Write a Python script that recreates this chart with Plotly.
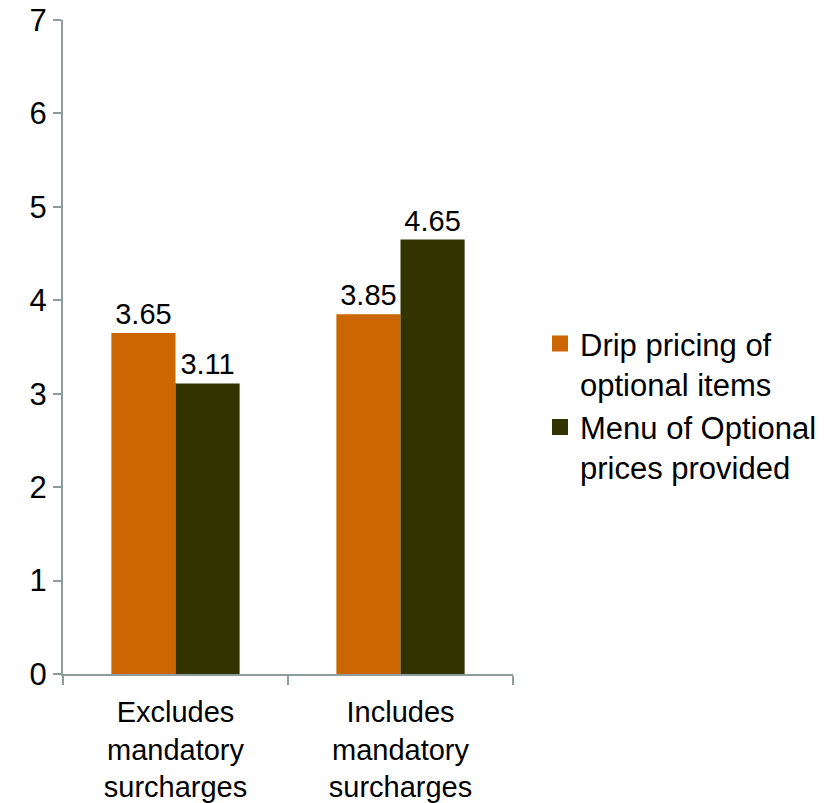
import plotly.graph_objects as go

categories = ["Excludes<br>mandatory<br>surcharges", "Includes<br>mandatory<br>surcharges"]
series_names = ["Drip pricing of<br>optional items", "Menu of Optional<br>prices provided"]
drip_values = [3.65, 3.85]
menu_values = [3.11, 4.65]
colors = ["#CC6600", "#333300"]
y_ticks = [0, 1, 2, 3, 4, 5, 6, 7]

FONT = "Liberation Sans, Arial, sans-serif"
AXIS_COLOR = "#8E9C9C"

fig = go.Figure()
for name, vals, col in zip(series_names, [drip_values, menu_values], colors):
    fig.add_trace(go.Bar(
        x=categories, y=vals, name=name, showlegend=False,
        marker=dict(color=col, line=dict(width=0)),
        text=[f"{v:.2f}" for v in vals], textposition="outside",
        textfont=dict(family=FONT, size=29, color="black"),
        cliponaxis=False,
    ))
# legend-only entries with larger square swatches
for name, col in zip(series_names, colors):
    fig.add_trace(go.Scatter(
        x=[None], y=[None], mode="markers", name=name,
        marker=dict(symbol="square", size=16, color=col),
    ))

fig.update_layout(
    width=838, height=803,
    margin=dict(l=63, r=325, t=20, b=129, autoexpand=False),
    paper_bgcolor="white", plot_bgcolor="white",
    barmode="group", bargap=0.43, bargroupgap=0,
    font=dict(family=FONT, size=30, color="black"),
    showlegend=True,
    legend=dict(x=1.06, y=0.41, xanchor="left", yanchor="middle", valign="top",
                font=dict(family=FONT, size=31, color="black"),
                bgcolor="rgba(0,0,0,0)", tracegroupgap=8),
    xaxis=dict(range=[-0.5, 1.5], showline=True, linecolor=AXIS_COLOR, linewidth=2,
               ticks="outside", tickson="boundaries", ticklen=9, tickcolor=AXIS_COLOR,
               tickwidth=2, showgrid=False, automargin=False, ticklabelstandoff=11,
               tickfont=dict(family=FONT, size=29, color="black")),
    yaxis=dict(range=[0, 7], tickvals=y_ticks, showline=True, linecolor=AXIS_COLOR, linewidth=2,
               ticks="outside", ticklen=8, tickcolor=AXIS_COLOR, tickwidth=2, automargin=False,
               showgrid=False, zeroline=False, tickfont=dict(family=FONT, size=31, color="black")),
)

fig.write_html("out.html", config={"displayModeBar": False})
